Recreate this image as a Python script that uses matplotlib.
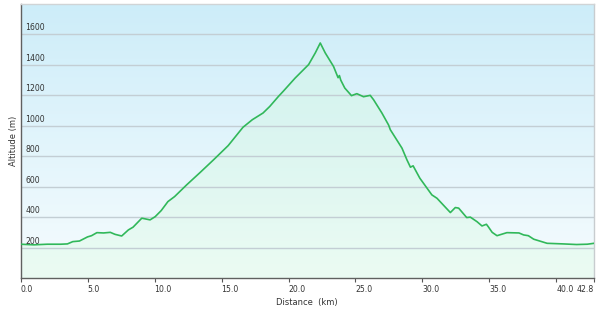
import matplotlib.pyplot as plt
import matplotlib.transforms as mtransforms
from matplotlib.colors import LinearSegmentedColormap
import numpy as np

# elevation profile
dist_km = [0.0, 1.0, 2.0, 3.0, 3.5, 3.9, 4.4, 5.0, 5.3, 5.7, 6.2, 6.7, 7.05, 7.55,
           8.05, 8.4, 9.05, 9.67, 10.05, 10.5, 11.0, 11.5, 12.4, 13.4, 14.4, 15.5,
           16.6, 17.3, 18.1, 18.6, 19.25, 19.6, 20.5, 21.5, 22.0, 22.37, 22.74,
           23.36, 23.7, 23.8, 23.9, 24.2, 24.7, 25.1, 25.6, 26.1, 26.35, 26.97,
           27.47, 27.6, 28.47, 28.84, 29.1, 29.3, 29.8, 30.7, 31.08, 32.08, 32.45,
           32.7, 33.3, 33.57, 34.07, 34.44, 34.77, 34.9, 35.2, 35.56, 36.3, 37.2,
           37.55, 37.9, 38.3, 39.3, 40.5, 41.5, 42.3, 42.8]
alt_m = [222, 218, 222, 222, 224, 239, 243, 270, 278, 298, 296, 300, 287, 276,
         316, 334, 393, 382, 403, 443, 502, 535, 612, 693, 776, 870,
         990, 1040, 1084, 1127, 1193, 1226, 1314, 1402, 1479, 1544, 1479,
         1390, 1316, 1330, 1300, 1248, 1198, 1211, 1191, 1200, 1171, 1084,
         1005, 974, 853, 776, 728, 737, 656, 546, 524, 430, 463,
         459, 397, 400, 370, 342, 353, 338, 300, 278, 298, 296,
         283, 278, 255, 228, 224, 220, 222, 228]

x_ticks = [0, 5, 10, 15, 20, 25, 30, 35, 40, 42.8]
y_ticks = [200, 400, 600, 800, 1000, 1200, 1400, 1600]

fig = plt.figure(figsize=(6, 3.09), dpi=100)
ax = fig.add_axes([0.0342, 0.1003, 0.9558, 0.8867])
ax.set_xlim(0, 42.8)
ax.set_ylim(0, 1800)

# sky-blue gradient behind the plot
cmap = LinearSegmentedColormap.from_list('bg', ['#f6fcfe', '#cdedf9'])
grad = np.linspace(0, 1, 256).reshape(-1, 1)
ax.imshow(grad, cmap=cmap, origin='lower', aspect='auto',
          extent=[0, 42.8, 0, 1800], zorder=0, interpolation='bilinear')

ax.fill_between(dist_km, alt_m, 0, color='#cdfad2', alpha=0.25, lw=0, zorder=1)
for v in y_ticks:
    ax.axhline(v, color='#c3ced4', lw=1.0, zorder=2)
ax.plot(dist_km, alt_m, color='#31b85a', lw=1.2, zorder=3)

# y labels sit inside the plot just above their grid line
trans = mtransforms.offset_copy(ax.get_yaxis_transform(), fig=fig, x=5, y=2, units='dots')
for v in y_ticks:
    ax.text(0, v, str(v), transform=trans, ha='left', va='bottom',
            fontsize=5.6, color='#333333')
ax.set_yticks([])

ax.set_xticks(x_ticks)
ax.set_xticklabels(['%.1f' % t for t in x_ticks], fontsize=5.6, color='#333333')
for i, lab in enumerate(ax.get_xticklabels()):
    if i == len(x_ticks) - 1:
        lab.set_ha('right')
        lab.set_transform(lab.get_transform() + mtransforms.ScaledTranslation(-2 / 72, 0, fig.dpi_scale_trans))
    else:
        lab.set_ha('left')
        lab.set_transform(lab.get_transform() + mtransforms.ScaledTranslation(2 / 72, 0, fig.dpi_scale_trans))
ax.tick_params(axis='x', direction='out', length=3, width=0.8, color='#555555', pad=2)

ax.spines['left'].set_color('#606060')
ax.spines['bottom'].set_color('#606060')
ax.spines['top'].set_color('#d0d4d6')
ax.spines['right'].set_color('#c8cccf')
for s in ax.spines.values():
    s.set_linewidth(1.0)

ax.set_xlabel('Distance  (km)', fontsize=6, color='#333333', labelpad=3)
ax.set_ylabel('Altitude (m)', fontsize=6, color='#333333', labelpad=2)

fig.savefig('out.png', dpi=100)
